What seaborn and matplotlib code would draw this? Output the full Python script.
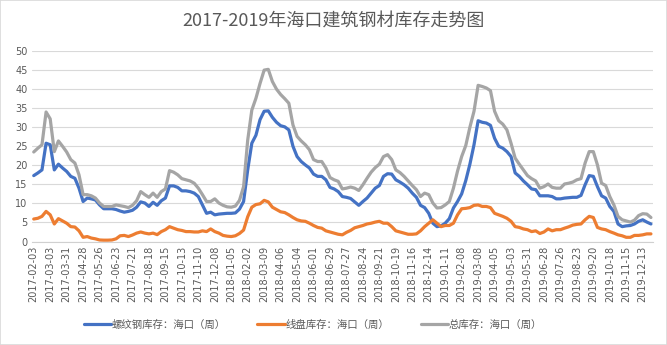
import numpy as np
import pandas as pd
import matplotlib
matplotlib.use("Agg")
import matplotlib.pyplot as plt
from matplotlib.patches import Rectangle
import seaborn as sns

# ---------------- data ----------------
dates = pd.date_range("2017-02-03", "2019-12-27", freq="7D")
dates = dates[dates != pd.Timestamp("2018-02-16")]  # missing week (Spring Festival)
date_labels = list(dates.strftime("%Y-%m-%d"))

rebar = [17.3, 18.0, 18.8, 25.8, 25.4, 18.8, 20.3, 19.3, 18.4, 17.1, 16.6, 14.0, 10.5, 11.4, 11.2, 10.9,
         9.6, 8.6, 8.6, 8.6, 8.4, 8.0, 7.7, 7.9,
         8.2, 9.0, 10.4, 10.1, 9.2, 10.3, 9.5, 10.7, 11.4, 14.6, 14.6, 14.2, 13.3, 13.3, 13.1, 12.7,
         11.8, 9.6, 7.4, 7.7, 7.0, 7.2, 7.3, 7.4, 7.4, 7.5, 8.5, 10.5,
         18.8, 25.8, 27.9, 32.0, 34.2, 34.3, 32.6, 31.3, 30.4, 30.1, 29.3, 25.0, 22.3, 21.0, 20.1, 19.3,
         17.7, 17.1, 17.1, 16.2, 14.2, 13.8, 13.1, 11.8, 11.6, 11.3, 10.4, 9.5,
         10.5, 11.4, 12.7, 14.0, 14.7, 17.1, 17.8, 17.7, 16.2, 15.6, 14.9, 14.0, 12.7, 11.6, 9.5, 8.9,
         7.4, 4.8, 3.9, 4.1, 4.8, 6.0, 8.8, 10.5, 12.5, 16.0, 20.3,
         25.4, 31.7, 31.3, 31.1, 30.5, 27.1, 25.0, 24.5, 23.6, 22.3, 18.0, 17.1, 15.9, 14.9, 13.8, 13.6,
         12.0, 12.0, 12.0, 11.8, 11.2, 11.2, 11.4, 11.5, 11.6, 11.6,
         12.1, 14.9, 17.3, 17.1, 14.4, 12.0, 11.4, 9.2, 7.9, 4.6, 3.9, 4.1, 4.2, 4.6, 5.3, 5.7, 5.1, 4.6]

wire = [5.9, 6.1, 6.6, 7.9, 7.0, 4.6, 6.0, 5.4, 4.8, 3.9, 3.8, 2.8, 1.1, 1.3, 0.9, 0.7,
        0.4, 0.35, 0.35, 0.4, 0.7, 1.5, 1.6, 1.3,
        1.7, 2.2, 2.5, 2.2, 2.0, 2.2, 1.8, 2.6, 3.1, 3.9, 3.5, 3.1, 2.9, 2.6, 2.6, 2.5,
        2.5, 2.8, 2.6, 3.3, 2.6, 2.2, 1.6, 1.4, 1.3, 1.5, 2.1, 3.0,
        6.5, 9.0, 9.7, 9.9, 10.8, 10.4, 9.0, 8.4, 7.8, 7.6, 7.0, 6.3, 5.7, 5.4, 5.3, 4.8,
        4.2, 3.7, 3.5, 2.8, 2.5, 2.2, 1.9, 1.75, 2.4, 2.9, 3.6, 3.9,
        4.2, 4.6, 4.8, 5.1, 5.3, 4.8, 4.8, 3.9, 2.8, 2.5, 2.2, 1.9, 1.9, 2.0, 2.8, 3.9,
        4.8, 5.7, 4.8, 3.9, 4.2, 4.2, 4.8, 7.0, 8.6, 8.7, 8.9,
        9.5, 9.6, 9.2, 9.2, 8.9, 7.4, 7.0, 6.6, 6.1, 5.3, 3.9, 3.7, 3.3, 3.1, 2.6, 2.8,
        2.1, 2.5, 3.3, 2.8, 3.1, 3.1, 3.5, 3.85, 4.3, 4.5,
        4.6, 5.7, 6.6, 6.3, 3.7, 3.3, 3.1, 2.6, 2.2, 1.75, 1.5, 1.1, 1.1, 1.6, 1.6, 1.75, 2.0, 2.0]

total = [23.5, 24.5, 25.4, 34.0, 32.2, 23.6, 26.4, 25.0, 23.5, 21.5, 20.6, 17.5, 12.3, 12.3, 12.0, 11.4,
         10.1, 9.2, 9.2, 9.2, 9.6, 9.4, 9.2, 8.9,
         9.5, 10.7, 13.1, 12.3, 11.6, 12.7, 11.6, 13.1, 13.8, 18.6, 18.2, 17.5, 16.5, 16.2, 15.9, 15.3,
         14.0, 12.3, 10.5, 10.5, 11.2, 10.1, 9.5, 9.1, 9.0, 9.3, 10.8, 14.4,
         26.6, 34.5, 37.6, 41.5, 45.0, 45.2, 42.0, 40.0, 38.6, 37.5, 36.3, 30.6, 27.6, 26.4, 25.4, 24.1,
         21.5, 21.0, 21.0, 19.3, 16.8, 16.2, 15.8, 13.8, 14.0, 14.3, 14.0, 13.4,
         14.9, 16.6, 18.2, 19.4, 20.3, 22.3, 22.8, 21.5, 18.8, 18.1, 17.1, 15.9, 14.7, 13.6, 11.8, 12.7,
         12.3, 10.1, 8.8, 8.9, 9.6, 10.5, 14.0, 18.5, 22.3, 25.2, 30.0,
         34.2, 41.0, 40.7, 40.3, 39.6, 34.2, 31.7, 30.8, 29.3, 25.8, 21.9, 20.3, 18.8, 17.3, 16.5, 15.9,
         14.0, 14.4, 15.1, 14.2, 14.0, 14.0, 15.1, 15.3, 15.6, 16.2,
         16.5, 20.6, 23.6, 23.6, 20.1, 15.3, 14.7, 11.8, 9.6, 6.6, 5.7, 5.4, 5.1, 5.6, 6.8, 7.3, 7.2, 6.3]

series_names = ["螺纹钢库存：海口（周）", "线盘库存：海口（周）", "总库存：海口（周）"]
series_colors = ["#4472C4", "#ED7D31", "#A5A5A5"]
title = "2017-2019年海口建筑钢材库存走势图"
y_ticks = list(range(0, 55, 5))

# ---------------- build table ----------------
n = len(date_labels)
pos = np.arange(n)
df = pd.concat([
    pd.DataFrame({"pos": pos, "date": date_labels, "value": vals, "series": name})
    for vals, name in zip([rebar, wire, total], series_names)
], ignore_index=True)

# ---------------- plot ----------------
sns.set_theme(style="white")
plt.rcParams["font.family"] = ["Noto Sans CJK SC", "DejaVu Sans"]
text_color = "#595959"

fig = plt.figure(figsize=(6.67, 3.45), dpi=100)
ax = fig.add_axes([0.0475, 0.30, 0.9315, 0.552])

sns.lineplot(data=df, x="pos", y="value", hue="series", hue_order=series_names,
             palette=series_colors, linewidth=2.3, ax=ax, legend=False, sort=False)

ax.set_xlim(-0.5, n - 0.5)
ax.set_ylim(0, 50)
ax.set_yticks(y_ticks)
ax.set_yticklabels([str(v) for v in y_ticks], fontsize=7, color=text_color,
                   family=["DejaVu Sans"])
tick_pos = pos[::4]
ax.set_xticks(tick_pos)
ax.set_xticklabels([date_labels[i] for i in tick_pos], rotation=90, fontsize=7,
                   color=text_color, family=["DejaVu Sans"])
ax.tick_params(axis="both", length=0, pad=3)
ax.set_xlabel("")
ax.set_ylabel("")
ax.grid(axis="y", color="#D9D9D9", linewidth=0.8)
ax.set_axisbelow(True)
for s in ["top", "right", "left"]:
    ax.spines[s].set_visible(False)
ax.spines["bottom"].set_color("#D0D0D0")
ax.spines["bottom"].set_linewidth(0.8)

fig.text(0.5, 1 - 22 / 345, title, ha="center", va="center", fontsize=13, color=text_color)

handles = [plt.Line2D([0], [0], color=c, linewidth=2.3) for c in series_colors]
fig.legend(handles, series_names, loc="center", bbox_to_anchor=(313 / 667, 1 - 325 / 345),
           ncol=3, frameon=False, fontsize=7.5, handlelength=2.6, handletextpad=0.1,
           columnspacing=3.0, labelcolor=text_color)

fig.patches.append(Rectangle((0, 0), 1, 1, transform=fig.transFigure, fill=False,
                             edgecolor="#D9D9D9", linewidth=1.2))

fig.savefig("out.png", dpi=100)
